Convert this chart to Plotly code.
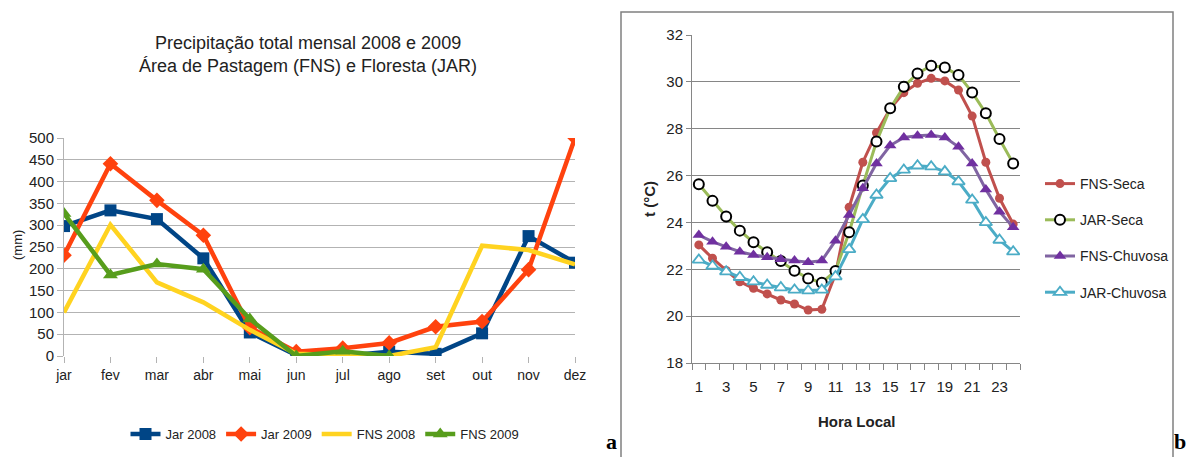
import plotly.graph_objects as go

W, H = 1188, 457
def px(x): return x / W
def py(y): return 1 - y / H

# ---- left panel data ----
months = ["jar", "fev", "mar", "abr", "mai", "jun", "jul", "ago", "set", "out", "nov", "dez"]
jar2008 = [298, 334, 314, 224, 54, 2, 0, 10, 5, 52, 275, 214]
jar2009 = [231, 441, 357, 277, 65, 10, 18, 30, 67, 79, 198, 500]
fns2008 = [100, 301, 169, 123, 60, 5, 2, 0, 20, 253, 243, 210]
fns2009 = [327, 186, 211, 199, 85, 0, 11, 0, None, None, None, None]

# ---- right panel data ----
hours = list(range(1, 25))
fns_seca = [23.04, 22.47, 21.95, 21.47, 21.19, 20.95, 20.69, 20.52, 20.26, 20.29, 21.8, 24.65,
            26.57, 27.83, 28.85, 29.54, 29.94, 30.15, 30.04, 29.65, 28.54, 26.57, 25.03, 23.93]
jar_seca = [25.63, 24.92, 24.25, 23.65, 23.15, 22.73, 22.35, 21.94, 21.61, 21.43, 21.93, 23.58,
            25.58, 27.45, 28.87, 29.79, 30.36, 30.69, 30.61, 30.29, 29.55, 28.66, 27.56, 26.52]
fns_chuv = [23.46, 23.18, 22.96, 22.75, 22.61, 22.51, 22.43, 22.37, 22.30, 22.37, 23.22, 24.32,
            25.46, 26.52, 27.28, 27.63, 27.70, 27.73, 27.63, 27.23, 26.52, 25.41, 24.46, 23.79]
jar_chuv = [22.40, 22.14, 21.90, 21.66, 21.47, 21.33, 21.22, 21.12, 21.09, 21.12, 21.69, 22.85,
            24.13, 25.17, 25.88, 26.24, 26.42, 26.38, 26.17, 25.74, 24.96, 24.00, 23.25, 22.75]
hour_ticks = list(range(1, 24, 2))

fig = go.Figure()

lf = "Liberation Sans"
rf = "Liberation Sans Narrow, Liberation Sans, sans-serif"

# left traces
fig.add_trace(go.Scatter(x=months, y=jar2008, name="Jar 2008", mode="lines+markers",
                         line=dict(color="#004586", width=4.5),
                         marker=dict(symbol="square", size=12, color="#004586"),
                         xaxis="x", yaxis="y", legend="legend"))
fig.add_trace(go.Scatter(x=months, y=jar2009, name="Jar 2009", mode="lines+markers",
                         line=dict(color="#FF420E", width=4.5),
                         marker=dict(symbol="diamond", size=12, color="#FF420E"),
                         xaxis="x", yaxis="y", legend="legend"))
fig.add_trace(go.Scatter(x=months, y=fns2008, name="FNS 2008", mode="lines",
                         line=dict(color="#FFD320", width=4.5),
                         xaxis="x", yaxis="y", legend="legend"))
fig.add_trace(go.Scatter(x=months, y=fns2009, name="FNS 2009", mode="lines+markers",
                         line=dict(color="#579D1C", width=4.5),
                         marker=dict(symbol="triangle-up", size=13, color="#579D1C"),
                         xaxis="x", yaxis="y", legend="legend"))

# right traces
fig.add_trace(go.Scatter(x=hours, y=fns_seca, name="FNS-Seca", mode="lines+markers",
                         line=dict(color="#C0504D", width=3),
                         marker=dict(symbol="circle", size=9, color="#C0504D"),
                         xaxis="x2", yaxis="y2", legend="legend2", legendgroup="a"))
fig.add_trace(go.Scatter(x=hours, y=jar_seca, name="JAR-Seca", mode="lines+markers",
                         line=dict(color="#9BBB59", width=3),
                         marker=dict(symbol="circle", size=10, color="white",
                                     line=dict(color="black", width=2)),
                         xaxis="x2", yaxis="y2", legend="legend2", legendgroup="b"))
fig.add_trace(go.Scatter(x=hours, y=fns_chuv, name="FNS-Chuvosa", mode="lines+markers",
                         line=dict(color="#8064A2", width=3),
                         marker=dict(symbol="triangle-up", size=11, color="#7030A0"),
                         xaxis="x2", yaxis="y2", legend="legend2", legendgroup="c"))
fig.add_trace(go.Scatter(x=hours, y=jar_chuv, name="JAR-Chuvosa", mode="lines+markers",
                         line=dict(color="#4BACC6", width=3),
                         marker=dict(symbol="triangle-up", size=11, color="white",
                                     line=dict(color="#4BACC6", width=1.8)),
                         xaxis="x2", yaxis="y2", legend="legend2", legendgroup="d"))

def ann(text, x, y, size, family=lf, angle=0, color="#222", yanchor="middle"):
    return dict(text=text, x=px(x), y=py(y), xref="paper", yref="paper", showarrow=False,
                xanchor="center", yanchor=yanchor, textangle=angle, align="center",
                font=dict(family=family, size=size, color=color))

fig.update_layout(
    width=W, height=H, margin=dict(l=0, r=0, t=0, b=0, autoexpand=False),
    paper_bgcolor="white", plot_bgcolor="white",
    font=dict(family=lf, color="black"),
    xaxis=dict(domain=[px(64), px(575)], range=[0, 11], type="category",
               showgrid=False, showline=False, zeroline=False,
               ticks="outside", ticklen=6, tickcolor="#b3b3b3",
               tickfont=dict(family=lf, size=14, color="#222"), anchor="y"),
    yaxis=dict(domain=[py(356), py(138)], range=[0, 500], dtick=50,
               showgrid=True, gridcolor="#b3b3b3", gridwidth=1,
               showline=True, linecolor="#b3b3b3", zeroline=False,
               ticks="outside", ticklen=6, tickcolor="#b3b3b3",
               tickfont=dict(family=lf, size=15, color="#222"), anchor="x"),
    xaxis2=dict(domain=[px(692), px(1020)], range=[0.5, 24.5],
                tickvals=hour_ticks, ticks="", showgrid=False, zeroline=False,
                showline=True, linecolor="#868686",
                minor=dict(tickvals=[h + 0.5 for h in range(0, 25)], ticks="outside",
                           ticklen=6, tickcolor="#868686", showgrid=False),
                ticklabelstandoff=10,
                tickfont=dict(family=rf, size=15, color="#222"), anchor="y2"),
    yaxis2=dict(domain=[py(363), py(35)], range=[18, 32], dtick=2,
                showgrid=True, gridcolor="#868686", gridwidth=1,
                showline=True, linecolor="#868686", zeroline=False,
                ticks="outside", ticklen=5, tickcolor="#868686",
                tickfont=dict(family=rf, size=15, color="#222"), anchor="x2"),
    legend=dict(orientation="h", x=px(325), y=py(434), xanchor="center", yanchor="middle",
                font=dict(family=lf, size=13, color="#222"), itemwidth=30,
                bgcolor="rgba(0,0,0,0)"),
    legend2=dict(orientation="v", x=px(1040), y=py(168), xanchor="left", yanchor="top",
                 font=dict(family=rf, size=14, color="#222"), tracegroupgap=15,
                 itemwidth=30, bgcolor="rgba(0,0,0,0)"),
    shapes=[dict(type="rect", xref="paper", yref="paper",
                 x0=px(621), x1=px(1173), y0=py(470), y1=py(12),
                 line=dict(color="#808080", width=1.5))],
    annotations=[
        ann("Precipitação total mensal 2008 e 2009<br>Área de Pastagem (FNS) e Floresta (JAR)",
            308, 54, 18),
        ann("(mm)", 17, 245, 13, angle=-90),
        ann("<b>t (°C)</b>", 649, 199, 15, family=rf, angle=-90),
        ann("<b>Hora Local</b>", 857, 421, 15, family=rf),
        ann("<b>a</b>", 611, 456, 22, family="Liberation Serif", color="black", yanchor="bottom"),
        ann("<b>b</b>", 1180, 456, 22, family="Liberation Serif", color="black", yanchor="bottom"),
    ],
)

fig.write_html("out.html", config={"displayModeBar": False},
               post_script="document.body.style.margin='0';document.body.style.overflow='hidden';")
